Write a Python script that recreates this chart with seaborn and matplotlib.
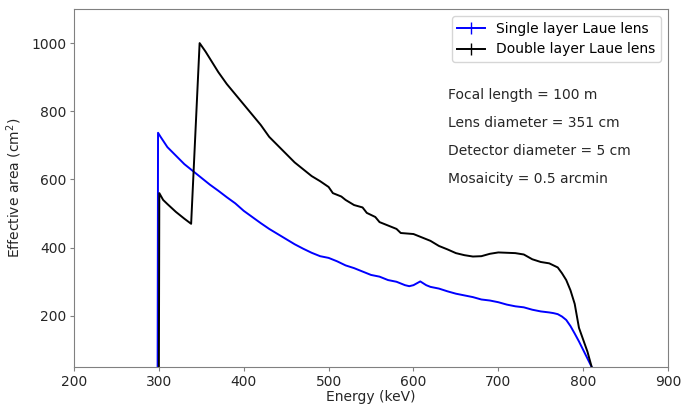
import matplotlib
matplotlib.use("Agg")
import matplotlib.pyplot as plt
import seaborn as sns
import pandas as pd
from matplotlib.lines import Line2D

# Energy (keV) and effective area (cm^2)
energy_single = [298.5, 299, 302, 310, 320, 330, 340, 350, 360, 370, 380, 390, 400,
                 410, 420, 430, 440, 450, 460, 470, 480, 490, 500, 510, 520, 530,
                 540, 550, 560, 570, 580, 590, 595, 600, 608, 615, 620, 630, 640,
                 650, 660, 670, 680, 690, 700, 710, 720, 730, 740, 750, 760, 765,
                 770, 775, 780, 785, 790, 795, 800, 805, 810]
area_single = [50, 737, 725, 695, 670, 645, 625, 605, 585, 567, 548, 530, 508,
               490, 472, 455, 440, 425, 410, 397, 385, 375, 370, 360, 348, 340,
               330, 320, 315, 305, 300, 290, 287, 290, 301, 290, 285, 280, 272,
               265, 260, 255, 248, 245, 240, 233, 228, 225, 218, 213, 210, 208,
               205, 198, 188, 170, 148, 125, 100, 75, 50]

energy_double = [300, 300.5, 305, 310, 320, 330, 338, 348, 355, 360, 370, 380, 390,
                 400, 410, 420, 430, 440, 450, 460, 470, 480, 490, 500, 505, 515,
                 520, 530, 540, 545, 555, 560, 570, 580, 585, 600, 610, 620, 630,
                 640, 650, 660, 670, 680, 690, 700, 710, 720, 730, 740, 750, 760,
                 770, 775, 780, 785, 790, 795, 800, 805, 810]
area_double = [50, 560, 540, 528, 505, 485, 470, 1000, 975, 955, 915, 880, 850,
               820, 790, 760, 725, 700, 675, 650, 630, 610, 595, 578, 560, 550,
               540, 525, 518, 502, 490, 475, 465, 455, 443, 440, 430, 420, 405,
               395, 384, 378, 374, 375, 382, 386, 385, 384, 380, 366, 358, 354,
               342, 325, 305, 275, 235, 165, 130, 95, 50]

labels = ["Single layer Laue lens", "Double layer Laue lens"]
colors = ["blue", "black"]
notes = ["Focal length = 100 m", "Lens diameter = 351 cm",
         "Detector diameter = 5 cm", "Mosaicity = 0.5 arcmin"]

single = pd.DataFrame({"energy": energy_single, "area": area_single})
double = pd.DataFrame({"energy": energy_double, "area": area_double})

fig = plt.figure(figsize=(6.81, 4.04), dpi=100)
ax = fig.add_axes([0.1087, 0.0916, 0.8723, 0.8861])

sns.lineplot(data=single, x="energy", y="area", color=colors[0], lw=1.4,
             estimator=None, sort=False, ax=ax)
sns.lineplot(data=double, x="energy", y="area", color=colors[1], lw=1.4,
             estimator=None, sort=False, ax=ax)

ax.set_xlim(200, 900)
ax.set_ylim(50, 1100)
ax.set_yticks([200, 400, 600, 800, 1000])
ax.set_xlabel("Energy (keV)", fontsize=10, color="#262626", labelpad=1)
ax.set_ylabel("Effective area (cm$^2$)", fontsize=10, color="#262626", labelpad=5)
ax.tick_params(labelsize=10, length=3, pad=2.5, color="0.5", labelcolor="#262626")
for sp in ax.spines.values():
    sp.set_color("0.5")

handles = [Line2D([], [], color=c, marker="|", markersize=8, lw=1.4) for c in colors]
ax.legend(handles, labels, loc="upper right", fontsize=10)

for i, t in enumerate(notes):
    ax.text(641, 847 - i * 81.5, t, fontsize=10, va="center", color="#262626")

fig.savefig("out.png", dpi=100)
